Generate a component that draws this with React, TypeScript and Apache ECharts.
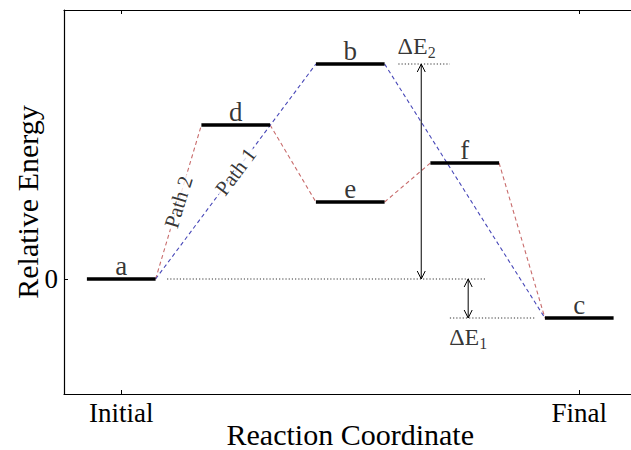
import React, { useEffect, useRef } from "react";
import * as echarts from "echarts";

// ---- data ----
const levelNames = ["a", "d", "b", "e", "f", "c"];
const levelStart = [0, 1, 2, 2, 3, 4];
const levelEnergy = [0, 15.4, 21.5, 7.7, 11.6, -3.9];
const levelWidth = 0.6;

const path1Levels = ["a", "b", "c"];
const path2Levels = ["a", "d", "e", "f", "c"];
const pathLabels = ["Path 1", "Path 2"];

const refStart = [0.7, 3.17, 2.72];
const refEnd = [3.49, 3.91, 3.17];
const refEnergy = [0, -3.9, 21.5];

const arrowX = [2.92, 3.33];
const arrowFrom = [21.5, 0];
const arrowTo = [0, -3.9];

const deltaNames = ["ΔE2", "ΔE1"];
const deltaX = [2.88, 3.33];
const deltaY = [23.3, -5.8];

const tickValues = [0.3, 4.3];
const tickLabels = ["Initial", "Final"];

const FONT = "'Liberation Serif', 'Times New Roman', serif";

function lvl(name: string) {
  const i = levelNames.indexOf(name);
  return { s: levelStart[i], e: levelStart[i] + levelWidth, y: levelEnergy[i] };
}

function pathSegments(names: string[]) {
  const segs: number[][][] = [];
  for (let i = 0; i < names.length - 1; i++) {
    const a = lvl(names[i]);
    const b = lvl(names[i + 1]);
    segs.push([
      [a.e, a.y],
      [b.s, b.y],
    ]);
  }
  return segs;
}

function buildOption() {
  const series: any[] = [];
  const p1 = pathSegments(path1Levels);
  const p2 = pathSegments(path2Levels);
  p2.forEach((seg) =>
    series.push({
      type: "line",
      data: seg,
      symbol: "none",
      silent: true,
      lineStyle: { color: "#c86c6c", width: 1.1, type: [4, 3] },
      z: 2,
    })
  );
  p1.forEach((seg) =>
    series.push({
      type: "line",
      data: seg,
      symbol: "none",
      silent: true,
      lineStyle: { color: "#4848b8", width: 1.1, type: [4, 3] },
      z: 2,
    })
  );
  // reference dotted lines
  refStart.forEach((s, i) =>
    series.push({
      type: "line",
      data: [
        [s, refEnergy[i]],
        [refEnd[i], refEnergy[i]],
      ],
      symbol: "none",
      silent: true,
      lineStyle: { color: "#333", width: 1.2, type: [1.2, 2] },
      z: 2,
    })
  );
  // levels
  levelNames.forEach((n, i) =>
    series.push({
      type: "line",
      data: [
        [levelStart[i], levelEnergy[i]],
        [levelStart[i] + levelWidth, levelEnergy[i]],
      ],
      symbol: "none",
      silent: true,
      lineStyle: { color: "#000", width: 3.5 },
      z: 4,
    })
  );
  // level labels
  series.push({
    type: "scatter",
    symbolSize: 0,
    silent: true,
    data: levelNames.map((n, i) => ({
      value: [levelStart[i] + levelWidth / 2, levelEnergy[i]],
      name: n,
    })),
    label: {
      show: true,
      position: "top",
      distance: 0,
      formatter: (p: any) => p.name,
      color: "#000",
      fontSize: 27,
      fontFamily: FONT,
    },
    z: 5,
  });
  // path labels at segment midpoints
  const mids = [p1[0], p2[0]].map((seg) => [
    (seg[0][0] + seg[1][0]) / 2,
    (seg[0][1] + seg[1][1]) / 2,
  ]);
  const rot = [53, 73];
  series.push({
    type: "scatter",
    symbolSize: 0,
    silent: true,
    data: mids.map((m, i) => ({
      value: m,
      name: pathLabels[i],
      label: { rotate: rot[i] },
    })),
    label: {
      show: true,
      position: "inside",
      formatter: (p: any) => p.name,
      color: "#000",
      fontSize: 21,
      fontFamily: FONT,
      backgroundColor: "#fff",
      padding: [0, 2],
    },
    z: 5,
  });
  // delta labels
  series.push({
    type: "scatter",
    symbolSize: 0,
    silent: true,
    data: deltaNames.map((n, i) => ({ value: [deltaX[i], deltaY[i]], name: n })),
    label: {
      show: true,
      position: "inside",
      formatter: (p: any) => "{m|" + p.name.slice(0, 2) + "}{s|" + p.name.slice(2) + "}",
      rich: {
        m: { fontSize: 24, fontFamily: FONT, color: "#000", lineHeight: 28 },
        s: { fontSize: 16, fontFamily: FONT, color: "#000", lineHeight: 14, verticalAlign: "bottom" },
      },
    },
    z: 5,
  });
  // arrows
  series.push({
    type: "custom",
    coordinateSystem: "cartesian2d",
    silent: true,
    data: arrowX.map((x, i) => [x, arrowFrom[i], arrowTo[i]]),
    encode: { x: 0, y: [1, 2] },
    renderItem: (params: any, api: any) => {
      const x = api.value(0);
      const a = api.coord([x, api.value(1)]);
      const b = api.coord([x, api.value(2)]);
      const dir = b[1] > a[1] ? 1 : -1;
      const h = 8;
      const w = 4;
      const st = { stroke: "#000", fill: "none", lineWidth: 1 };
      return {
        type: "group",
        children: [
          { type: "line", shape: { x1: a[0], y1: a[1], x2: b[0], y2: b[1] }, style: st },
          {
            type: "polyline",
            shape: { points: [[a[0] - w, a[1] + dir * h], [a[0], a[1]], [a[0] + w, a[1] + dir * h]] },
            style: st,
          },
          {
            type: "polyline",
            shape: { points: [[b[0] - w, b[1] - dir * h], [b[0], b[1]], [b[0] + w, b[1] - dir * h]] },
            style: st,
          },
        ],
      };
    },
    z: 3,
  });

  const tickFmt = (v: number) => {
    let best = 0;
    tickValues.forEach((t, i) => {
      if (Math.abs(t - v) < Math.abs(tickValues[best] - v)) best = i;
    });
    return tickLabels[best];
  };

  return {
    animation: false,
    backgroundColor: "#fff",
    grid: { left: 64, top: 10, width: 572.5, height: 384, containLabel: false, outerBoundsMode: "none" },
    xAxis: [
      {
        type: "value",
        min: -0.2,
        max: 4.8,
        position: "bottom",
        axisLine: { show: true, onZero: false, lineStyle: { color: "#000", width: 1.2 } },
        axisTick: { show: true, inside: true, length: 4, customValues: tickValues, lineStyle: { color: "#000" } },
        axisLabel: {
          show: true,
          customValues: tickValues,
          formatter: tickFmt,
          color: "#000",
          fontSize: 27,
          fontFamily: FONT,
          margin: 5,
        },
        splitLine: { show: false },
        name: "Reaction Coordinate",
        nameLocation: "middle",
        nameGap: 26,
        nameMoveOverlap: false,
        nameTextStyle: { color: "#000", fontSize: 30, lineHeight: 28, fontFamily: FONT },
      },
      {
        type: "value",
        min: -0.2,
        max: 4.8,
        position: "top",
        axisLine: { show: true, onZero: false, lineStyle: { color: "#000", width: 1.2 } },
        axisTick: { show: true, inside: true, length: 4, customValues: tickValues, lineStyle: { color: "#000" } },
        axisLabel: { show: false },
        splitLine: { show: false },
      },
    ],
    yAxis: {
      type: "value",
      min: -11.5,
      max: 26.9,
      axisLine: { show: true, onZero: false, lineStyle: { color: "#000", width: 1.2 } },
      axisTick: { show: true, inside: true, length: 4, customValues: [0], lineStyle: { color: "#000" } },
      axisLabel: {
        show: true,
        customValues: [0],
        color: "#000",
        fontSize: 27,
        fontFamily: FONT,
        margin: 6,
      },
      splitLine: { show: false },
      name: "Relative Energy",
      nameLocation: "middle",
      nameGap: 22,
      nameMoveOverlap: false,
      nameRotate: 90,
      nameTextStyle: { color: "#000", fontSize: 30, lineHeight: 30, fontFamily: FONT },
    },
    series,
  };
}

export default function App() {
  const ref = useRef<HTMLDivElement>(null);
  useEffect(() => {
    document.body.style.margin = "0";
    const chart = echarts.init(ref.current!, null, { renderer: "svg" });
    chart.setOption(buildOption() as any);
    return () => chart.dispose();
  }, []);
  return <div ref={ref} style={{ width: 631, height: 450 }} />;
}
